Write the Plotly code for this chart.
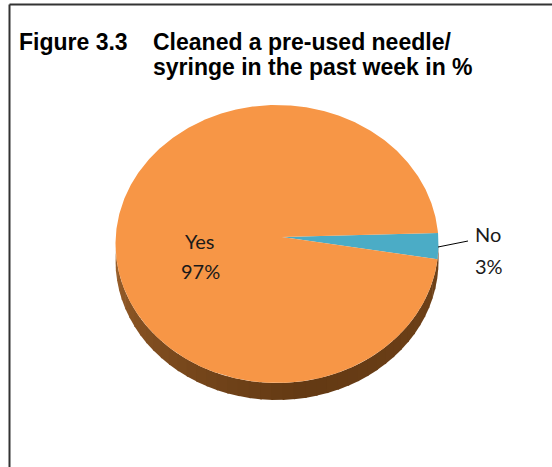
import numpy as np
import plotly.graph_objects as go

# ---- data ----
labels = ["Yes", "No"]
values = [97, 3]
slice_colors = ["#F79646", "#4BACC6"]
title_lines = ["Figure 3.3", "Cleaned a pre-used needle/", "syringe in the past week in %"]

# ---- geometry (pixel-like axis units) ----
W, H = 552, 467
cx, cy = 277.0, 244.0      # ellipse centre of the top face
rx, ry = 161.5, 139.0      # semi axes of the top face
apex = (282.0, 237.0)      # perspective centre of the pie
depth = 17.0
start_deg = 4.5            # "No" slice begins here, slices run clockwise

def ell(theta_deg, dy=0.0):
    t = np.radians(theta_deg)
    return cx + rx * np.cos(t), cy - ry * np.sin(t) + dy

def side_rgb(theta):
    # shading of the pie's side: lighter at the far left, darkest near the bottom
    light = np.array([166, 104, 48])
    dark = np.array([100, 58, 20])
    right = np.array([112, 66, 25])
    if theta <= 280:
        f = (theta - 180) / 100.0
        c = light + (dark - light) * min(1.0, f ** 0.6)
    else:
        f = (theta - 280) / 80.0
        c = dark + (right - dark) * f
    return "rgb(%d,%d,%d)" % tuple(int(v) for v in c)

fig = go.Figure()

# side (depth) band of the visible lower half, in shaded segments
edges = np.linspace(180, 360, 46)
for k in range(len(edges) - 1):
    t0, t1 = edges[k], min(360, edges[k + 1] + 0.6)
    th = np.linspace(t0, t1, 6)
    x_top, y_top = ell(th)
    x_bot, y_bot = ell(th[::-1], depth)
    fig.add_trace(go.Scatter(
        x=np.concatenate([x_top, x_bot]), y=np.concatenate([y_top, y_bot]),
        fill="toself", fillcolor=side_rgb(0.5 * (t0 + t1)), mode="lines", line=dict(width=0),
        hoverinfo="skip", showlegend=False))

# top face slices, drawn from the values (order: No first from start angle, clockwise)
total = float(sum(values))
order = [1, 0]
a0 = start_deg
for i in order:
    span = 360.0 * values[i] / total
    th = np.linspace(a0, a0 - span, max(3, int(span * 2)))
    xs, ys = ell(th)
    fig.add_trace(go.Scatter(
        x=np.concatenate([[apex[0]], xs, [apex[0]]]),
        y=np.concatenate([[apex[1]], ys, [apex[1]]]),
        fill="toself", fillcolor=slice_colors[i], mode="lines", line=dict(width=0),
        name=labels[i], showlegend=False))
    a0 -= span

# frame
fig.add_shape(type="line", x0=9.5, x1=W + 5, y0=4.5, y1=4.5, line=dict(color="#333333", width=2))
fig.add_shape(type="line", x0=9.5, x1=9.5, y0=4.5, y1=H + 5, line=dict(color="#333333", width=2))

# title
tfont = dict(family="Liberation Sans, Arial, sans-serif", size=23, color="#000000")
fig.add_annotation(x=17, y=42, text="<b>%s</b>" % title_lines[0], showarrow=False,
                   xanchor="left", yanchor="middle", font=tfont)
fig.add_annotation(x=151, y=42, text="<b>%s</b>" % title_lines[1], showarrow=False,
                   xanchor="left", yanchor="middle", font=tfont)
fig.add_annotation(x=151, y=67, text="<b>%s</b>" % title_lines[2], showarrow=False,
                   xanchor="left", yanchor="middle", font=tfont)

# data labels
lfont = dict(family="Lato, Carlito, sans-serif", size=20, color="#1a1a1a")
fig.add_annotation(x=200, y=241, text=labels[0], showarrow=False, xanchor="center", yanchor="middle", font=lfont)
fig.add_annotation(x=200, y=271, text="%d%%" % values[0], showarrow=False, xanchor="center", yanchor="middle", font=lfont)
fig.add_annotation(x=473, y=234, text=labels[1], showarrow=False, xanchor="left", yanchor="middle", font=lfont)
fig.add_annotation(x=473, y=266, text="%d%%" % values[1], showarrow=False, xanchor="left", yanchor="middle", font=lfont)
# leader line for the small slice
fig.add_shape(type="line", x0=438, y0=247, x1=468, y1=241, line=dict(color="#000000", width=1))

fig.update_xaxes(range=[0, W], visible=False, fixedrange=True)
fig.update_yaxes(range=[H, 0], visible=False, fixedrange=True)
fig.update_layout(width=W, height=H, margin=dict(l=0, r=0, t=0, b=0),
                  paper_bgcolor="white", plot_bgcolor="white", showlegend=False)

fig.write_html("out.html")
